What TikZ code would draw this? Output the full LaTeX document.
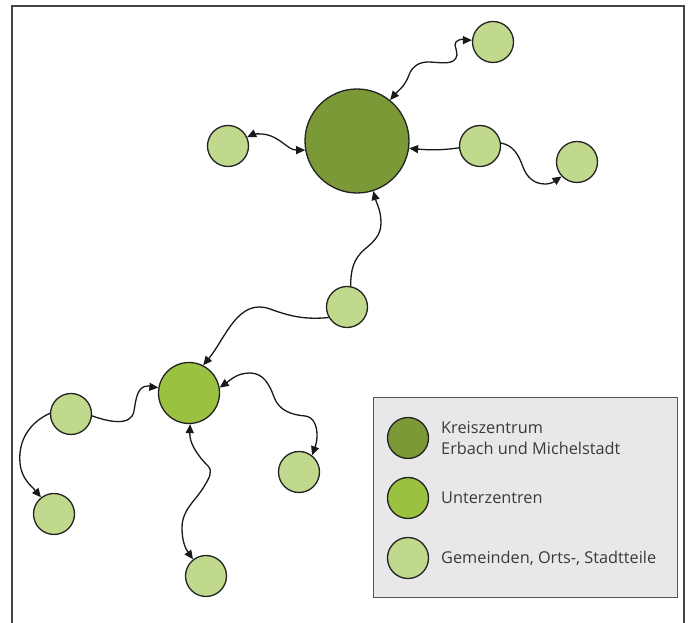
\documentclass[tikz,border=0pt]{standalone}
\usepackage{fontspec}
\setmainfont{Open Sans}
\usetikzlibrary{arrows.meta}
\definecolor{kzcol}{HTML}{7B9A37}
\definecolor{uzcol}{HTML}{9BC140}
\definecolor{gmcol}{HTML}{C0D98D}
\definecolor{edgecol}{HTML}{222222}
\definecolor{legfill}{HTML}{E8E8EA}
\definecolor{legdraw}{HTML}{555555}
\definecolor{txtcol}{HTML}{3A3A3A}
\definecolor{framecol}{HTML}{444444}
\begin{document}
\begin{tikzpicture}[x=1pt,y=1pt,
  town/.style={circle, draw=edgecol, line width=1.3pt, fill=gmcol, minimum size=41pt, inner sep=0pt},
  sub/.style={town, fill=uzcol, minimum size=61pt},
  kreis/.style={town, fill=kzcol, minimum size=104pt},
  conn/.style={draw=black!90, line width=1.3pt, >={Triangle[length=9pt,width=8pt]}},
  legtext/.style={anchor=west, text=txtcol, font=\fontsize{16.3}{21}\selectfont, align=left, inner sep=0pt}]
\useasboundingbox (0,0) rectangle (688,623);
\draw[framecol, line width=1.3pt] (12,0) -- (12,617) -- (684,617) -- (684,0);

% nodes
\node[kreis] (K) at (357,482) {};
\node[town] (T1) at (493,581) {};
\node[town] (L1) at (228,477) {};
\node[town] (R1) at (480,477) {};
\node[town] (R2) at (577,461) {};
\node[town] (M) at (347,316) {};
\node[sub] (U) at (189,230) {};
\node[town] (A) at (71,209) {};
\node[town] (B) at (54,109) {};
\node[town] (C) at (206,47) {};
\node[town] (D) at (299,151) {};

% connectors
\draw[conn,<->] (K.51) to[out=50,in=-110] (409,548) to[out=70,in=180] (428,561)
  to[out=0,in=-100] (457,568) to[out=80,in=-90] (455,578) to[out=90,in=180] (465,584)
  to[out=0,in=180] (T1.175);
\draw[conn,<->] (L1.25) to[out=25,in=175] (262,489) to[out=-5,in=180] (K.190);
\draw[conn,->] (R1.185) to[out=188,in=-5] (K.-8);
\draw[conn,->] (R1.8) to[out=-10,in=110] (523,456) to[out=-70,in=180] (545,439) to[out=0,in=215] (R2.223);
\draw[conn,->] (M.80) to[out=90,in=220] (365,374) to[out=40,in=-90] (381,400) to[out=90,in=-75] (K.-72);
\draw[conn,->] (M.210) to[out=185,in=-20] (270,314) to[out=160,in=50] (U.63);
\draw[conn,->] (A.-5) to[out=-20,in=-100] (134,212) to[out=80,in=180] (148,237) to[out=0,in=175] (U.170);
\draw[conn,->] (A.178) to[out=205,in=95] (20,160) to[out=-85,in=130] (B.128);
\draw[conn,<->] (U.10) to[out=35,in=180] (250,250) to[out=0,in=110] (274,226)
  to[out=-70,in=175] (305,207) to[out=-5,in=90] (317,188) to[out=-90,in=70] (D.52);
\draw[conn,<->] (U.-88) to[out=-92,in=135] (208,157) to[out=-45,in=60] (205,138)
  to[out=240,in=90] (182,95) to[out=-90,in=125] (C.128);

% legend
\node[draw=legdraw, fill=legfill, line width=1.3pt, minimum width=304pt, minimum height=200pt, inner sep=0pt, anchor=south west] (legend) at (373,25) {};
\node[kreis, minimum size=41pt] (lk) at (408,185) {};
\node[sub, minimum size=41pt] (lu) at (408,125) {};
\node[town] (lg) at (408,65) {};
\node[legtext] (tk) at (441,185) {Kreiszentrum\\Erbach und Michelstadt};
\node[legtext] (tu) at (441,125) {Unterzentren};
\node[legtext] (tg) at (441,65) {Gemeinden, Orts-, Stadtteile};
\end{tikzpicture}
\end{document}
